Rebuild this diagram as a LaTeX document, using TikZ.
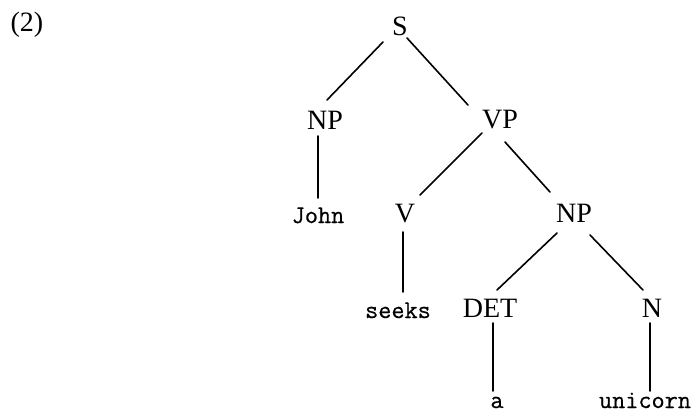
\documentclass[tikz,border=0pt]{standalone}
\usepackage{fontspec}
\setmainfont{Liberation Serif}
\newfontfamily\wordfont[FakeBold=0.6]{Latin Modern Mono}
\begin{document}
\begin{tikzpicture}[x=1pt,y=-1pt,
  cat/.style={inner sep=0pt,anchor=base,font=\fontsize{28}{33}\selectfont},
  word/.style={inner sep=0pt,anchor=base,font=\wordfont\fontsize{25.5}{30}\selectfont},
  branch/.style={line width=1.6pt,line cap=round}]
\useasboundingbox (0,0) rectangle (694,413);
% example number
\node[cat] (num) at (27,31) {(2)};
% categories
\node[cat] (S)   at (400,35)  {S};
\node[cat] (NPa) at (325,129) {NP};
\node[cat] (VP)  at (500,128) {VP};
\node[cat] (V)   at (405,222) {V};
\node[cat] (NPb) at (574,222) {NP};
\node[cat] (DET) at (490,317) {DET};
\node[cat] (N)   at (652,317) {N};
% words
\node[word] (john)    at (318,223) {John};
\node[word] (seeks)   at (398,318) {seeks};
\node[word] (a)       at (497,408) {a};
\node[word] (unicorn) at (645,408) {unicorn};
% branches
\draw[branch] ([shift={(-17,7)}]S.base) -- ([shift={(2,-29)}]NPa.base);
\draw[branch] ([shift={(7,3)}]S.base) -- ([shift={(-32,-23)}]VP.base);
\draw[branch] ([shift={(-7,7)}]NPa.base) -- ([shift={(0,-25)}]john.base);
\draw[branch] ([shift={(-18,5)}]VP.base) -- ([shift={(15,-27)}]V.base);
\draw[branch] ([shift={(5,14)}]VP.base) -- ([shift={(-24,-30)}]NPb.base);
\draw[branch] ([shift={(-2,10)}]V.base) -- ([shift={(5,-26)}]seeks.base);
\draw[branch] ([shift={(-17,11)}]NPb.base) -- ([shift={(7,-27)}]DET.base);
\draw[branch] ([shift={(16,13)}]NPb.base) -- ([shift={(-9,-27)}]N.base);
\draw[branch] ([shift={(3,6)}]DET.base) -- ([shift={(-4,-17)}]a.base);
\draw[branch] ([shift={(-2,6)}]N.base) -- ([shift={(5,-17)}]unicorn.base);
\end{tikzpicture}
\end{document}
